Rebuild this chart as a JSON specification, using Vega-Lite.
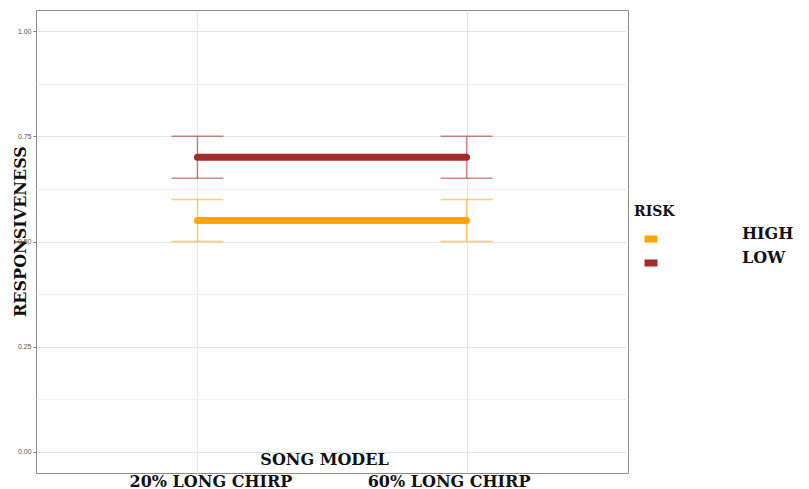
{
  "$schema": "https://vega.github.io/schema/vega-lite/v6.json",
  "width": 592,
  "height": 463,
  "autosize": {"type": "none"},
  "padding": {"left": 36, "top": 10, "right": 181, "bottom": 16},
  "background": "white",
  "config": {
    "view": {"stroke": "#8c8c8c", "strokeWidth": 1},
    "font": "DejaVu Serif"
  },
  "data": {
    "values": [
      {"model": "20% LONG CHIRP", "risk": "HIGH", "mean": 0.55, "lo": 0.50, "hi": 0.60},
      {"model": "60% LONG CHIRP", "risk": "HIGH", "mean": 0.55, "lo": 0.50, "hi": 0.60},
      {"model": "20% LONG CHIRP", "risk": "LOW", "mean": 0.70, "lo": 0.65, "hi": 0.75},
      {"model": "60% LONG CHIRP", "risk": "LOW", "mean": 0.70, "lo": 0.65, "hi": 0.75}
    ]
  },
  "encoding": {
    "x": {
      "field": "model",
      "type": "nominal",
      "sort": ["20% LONG CHIRP", "60% LONG CHIRP"],
      "scale": {"type": "point", "padding": 0.6},
      "axis": {
        "title": "SONG MODEL",
        "titleFont": "DejaVu Serif",
        "titleFontWeight": "bold",
        "titleFontSize": 16,
        "titleColor": "#111",
        "titleX": 288,
        "titleY": -14,
        "titleBaseline": "middle",
        "labelAngle": 0,
        "labelFont": "DejaVu Serif",
        "labelFontWeight": "bold",
        "labelFontSize": 16,
        "labelColor": "#111",
        "labelPadding": 0,
        "labelBaseline": "top",
        "labelOffset": {"condition": {"test": "datum.value == '20% LONG CHIRP'", "value": 13}, "value": -18},
        "ticks": false,
        "domain": false,
        "grid": true,
        "gridColor": "#e6e6e6",
        "gridWidth": 1
      }
    },
    "color": {
      "field": "risk",
      "type": "nominal",
      "scale": {"domain": ["HIGH", "LOW"], "range": ["#FFA500", "#A52A2A"]},
      "legend": {
        "title": "RISK",
        "orient": "none",
        "legendX": 598,
        "legendY": 195,
        "padding": 0,
        "titleFont": "DejaVu Serif",
        "titleFontWeight": "bold",
        "titleFontSize": 14,
        "titleColor": "#111",
        "titlePadding": 10,
        "symbolType": "stroke",
        "symbolSize": 169,
        "symbolStrokeWidth": 7,
        "symbolOpacity": 1,
        "symbolOffset": 7,
        "labelOffset": 81,
        "labelFont": "DejaVu Serif",
        "labelFontWeight": "bold",
        "labelFontSize": 16,
        "labelColor": "#111",
        "labelBaseline": "alphabetic",
        "rowPadding": -10
      }
    }
  },
  "layer": [
    {
      "mark": {"type": "rule", "strokeWidth": 1.5, "opacity": 0.55},
      "encoding": {
        "y": {
          "field": "lo",
          "type": "quantitative",
          "scale": {"domain": [-0.05, 1.05], "nice": false, "zero": false},
          "axis": {
            "title": "RESPONSIVENESS",
            "titleFont": "DejaVu Serif",
            "titleFontWeight": "bold",
            "titleFontSize": 16,
            "titleColor": "#111",
            "titleAngle": -90,
            "titleX": -16,
            "titleY": 221,
            "titleBaseline": "middle",
            "titleAlign": "center",
            "values": [0, 0.125, 0.25, 0.375, 0.5, 0.625, 0.75, 0.875, 1],
            "labelExpr": "(datum.value * 8) % 2 == 0 ? format(datum.value, '.2f') : ''",
            "labelFont": "Liberation Sans",
            "labelFontSize": 7,
            "labelColor": "#555555",
            "labelPadding": 2,
            "tickSize": 3,
            "tickColor": "#777777",
            "tickOpacity": {"condition": {"test": "(datum.value * 8) % 2 == 0", "value": 1}, "value": 0},
            "domain": false,
            "grid": true,
            "gridColor": {"condition": {"test": "(datum.value * 8) % 2 == 0", "value": "#e6e6e6"}, "value": "#f2f2f2"},
            "gridWidth": 1
          }
        },
        "y2": {"field": "hi"}
      }
    },
    {
      "mark": {"type": "tick", "orient": "horizontal", "size": 52, "thickness": 1.5, "opacity": 0.55},
      "encoding": {"y": {"field": "lo", "type": "quantitative"}}
    },
    {
      "mark": {"type": "tick", "orient": "horizontal", "size": 52, "thickness": 1.5, "opacity": 0.55},
      "encoding": {"y": {"field": "hi", "type": "quantitative"}}
    },
    {
      "mark": {"type": "line", "strokeWidth": 7, "strokeCap": "round"},
      "encoding": {
        "y": {"field": "mean", "type": "quantitative"}
      }
    }
  ]
}
